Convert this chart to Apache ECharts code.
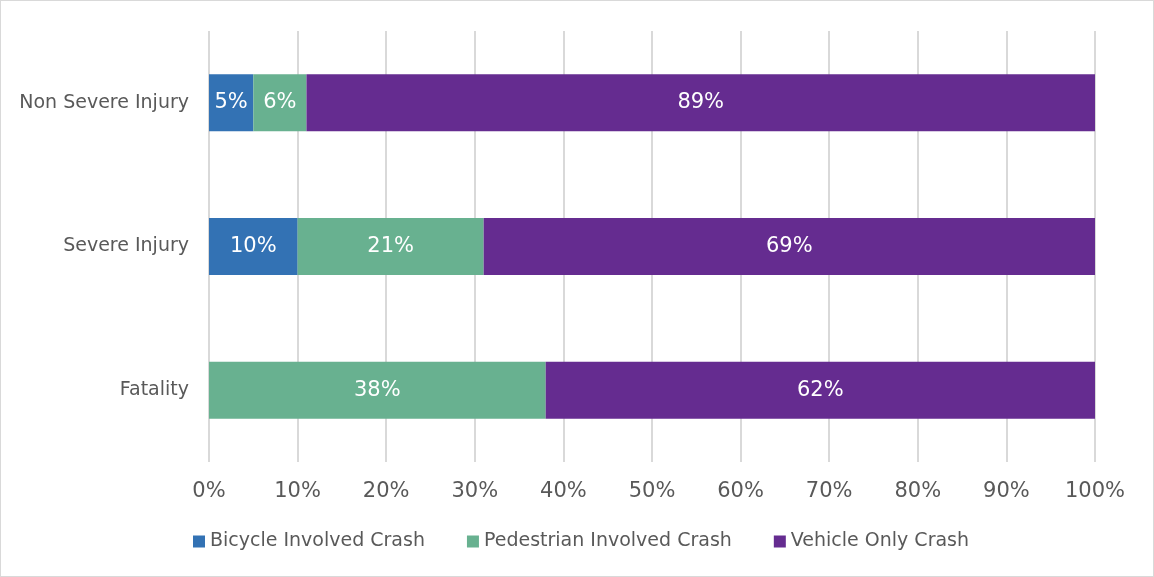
<!DOCTYPE html>
<html>
<head>
<meta charset="UTF-8"/>
<title>Crash severity</title>
<style>
    * { margin: 0; padding: 0; }
    body { background: #fff; }
    #chart {
        width: 1152px;
        height: 575px;
        border: 1px solid #d9d9d9;
    }
</style>
<script src="https://cdn.jsdelivr.net/npm/echarts@6/dist/echarts.min.js"></script>
</head>
<body>
<div id="chart"></div>
<script>
    const categories = ['Fatality', 'Severe Injury', 'Non Severe Injury']
    const bicycle = [0, 10, 5]
    const pedestrian = [38, 21, 6]
    const vehicle = [62, 69, 89]

    const font = '"DejaVu Sans", sans-serif'
    const textColor = '#595959'

    function seriesOf(name, data, color) {
        return {
            name: name,
            type: 'bar',
            stack: 'total',
            barWidth: 57,
            data: data,
            itemStyle: { color: color },
            label: {
                show: true,
                color: '#fff',
                fontFamily: font,
                fontSize: 21,
                formatter: p => p.value ? p.value + '%' : ''
            }
        }
    }

    const chart = echarts.init(document.getElementById('chart'))
    chart.setOption({
        animation: false,
        textStyle: { fontFamily: font },
        grid: { left: 208, right: 58, top: 30, bottom: 114 },
        xAxis: {
            type: 'value',
            min: 0,
            max: 100,
            interval: 10,
            axisLine: { show: false },
            axisTick: { show: false },
            splitLine: { lineStyle: { color: '#d9d9d9', width: 2 } },
            axisLabel: {
                formatter: '{value}%',
                color: textColor,
                fontSize: 21,
                margin: 19
            }
        },
        yAxis: {
            type: 'category',
            data: categories,
            axisLine: { show: false },
            axisTick: { show: false },
            axisLabel: { color: textColor, fontSize: 19, margin: 20 }
        },
        legend: {
            bottom: 20,
            left: 187,
            itemWidth: 12,
            itemHeight: 12,
            itemGap: 42,
            icon: 'rect',
            textStyle: { color: textColor, fontSize: 19 }
        },
        series: [
            seriesOf('Bicycle Involved Crash', bicycle, '#3372b4'),
            seriesOf('Pedestrian Involved Crash', pedestrian, '#68b190'),
            seriesOf('Vehicle Only Crash', vehicle, '#652c90')
        ]
    })
</script>
</body>
</html>
